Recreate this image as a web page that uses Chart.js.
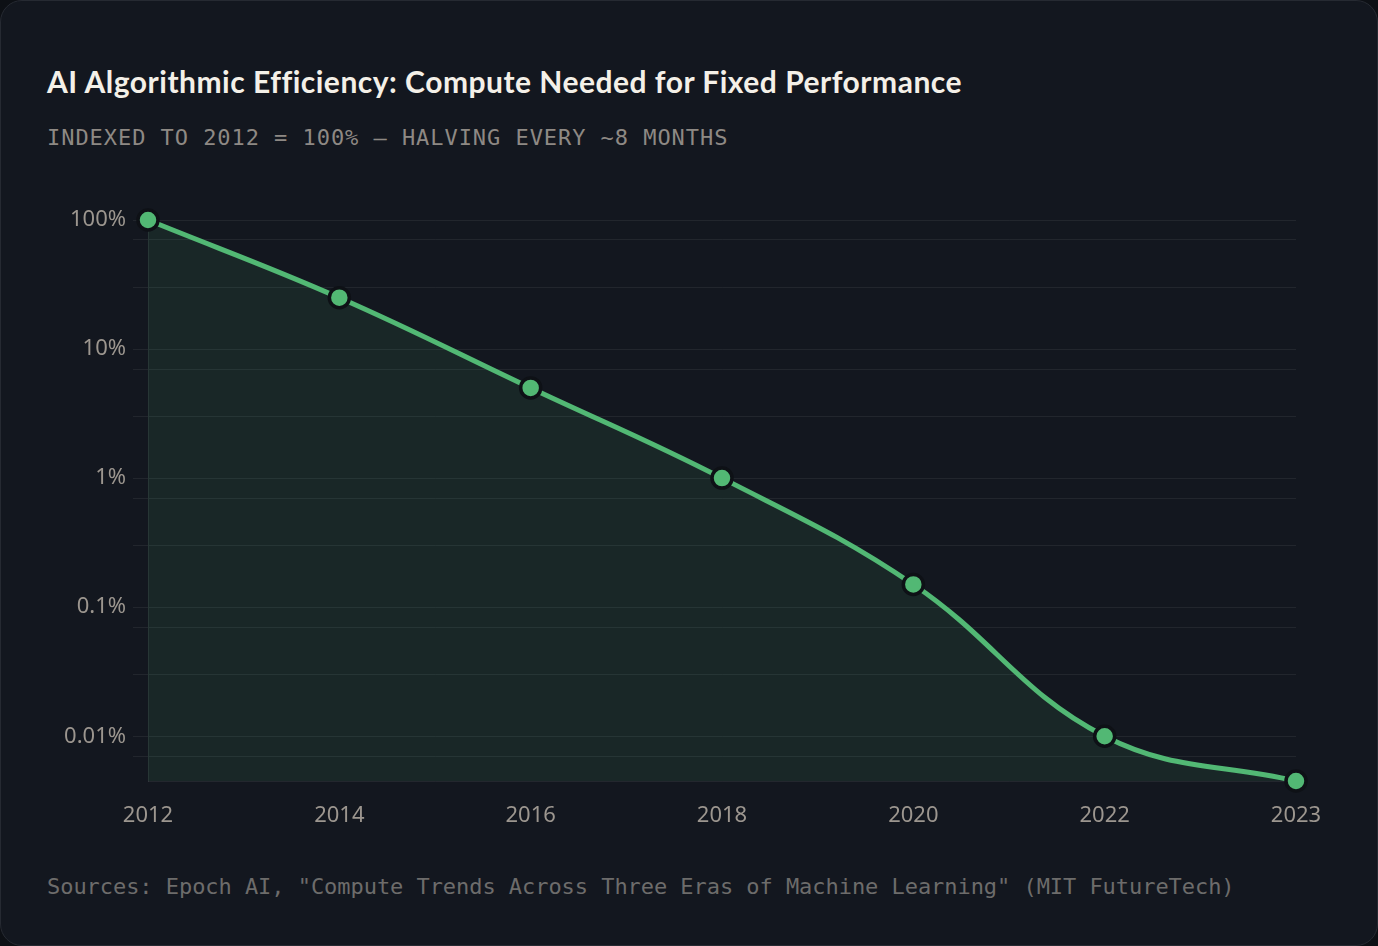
<!DOCTYPE html>
<html>
<head>
<meta charset="utf-8">
<script src="https://cdn.jsdelivr.net/npm/chart.js@4"></script>
<style>
  html, body { margin: 0; padding: 0; background: #0d1015; }
  .card {
    position: absolute; left: 0; top: 0; width: 1376px; height: 944px;
    background: #13171f; border: 1px solid #262a32; border-radius: 22px; overflow: hidden;
  }
  .title {
    position: absolute; left: 46px; top: 62px; line-height: 40px;
    font: 700 30px Lato, "Noto Sans", sans-serif; letter-spacing: 0.5px; color: #f4f0e8;
  }
  .subtitle {
    position: absolute; left: 46px; top: 124px; line-height: 30px;
    font: 400 22px "DejaVu Sans Mono", monospace; letter-spacing: 0.95px; color: #8e8984;
  }
  .source {
    position: absolute; left: 46px; top: 873px; line-height: 30px;
    font: 400 22px "DejaVu Sans Mono", monospace; letter-spacing: -0.05px; color: #6d6c6b;
  }
  .wrap { position: absolute; left: 0; top: 189px; width: 1378px; height: 680px; }
</style>
</head>
<body>
<div class="card">
  <div class="title">AI Algorithmic Efficiency: Compute Needed for Fixed Performance</div>
  <div class="subtitle">INDEXED TO 2012 = 100% — HALVING EVERY ~8 MONTHS</div>
  <div class="wrap"><canvas id="efficiency"></canvas></div>
  <div class="source">Sources: Epoch AI, "Compute Trends Across Three Eras of Machine Learning" (MIT FutureTech)</div>
</div>
<script>
// compute needed, % of 2012 level
var years = ['2012', '2014', '2016', '2018', '2020', '2022', '2023'];
var computeShare = [100, 25, 5, 1, 0.15, 0.01, 0.0045];
var gridTicks = [0.007, 0.01, 0.03, 0.07, 0.1, 0.3, 0.7, 1, 3, 7, 10, 30, 70, 100];
var labelTicks = [0.01, 0.1, 1, 10, 100];

document.addEventListener("DOMContentLoaded", function() {
    var ctx = document.getElementById('efficiency').getContext('2d');
    var green = '#52b874';
    var tickFont = { family: '"Noto Sans", sans-serif', size: 22 };

    new Chart(ctx, {
        type: 'line',
        data: {
            labels: years,
            datasets: [{
                data: computeShare,
                borderColor: green,
                borderWidth: 5,
                backgroundColor: 'rgba(82, 184, 116, 0.1)',
                fill: 'start',
                tension: 0.4,
                pointRadius: 10,
                pointHoverRadius: 10,
                pointBackgroundColor: green,
                pointBorderColor: '#0e1116',
                pointBorderWidth: 3.5,
                clip: false
            }]
        },
        options: {
            responsive: true,
            maintainAspectRatio: false,
            animation: false,
            layout: { padding: { top: 30, left: 60, right: 83, bottom: 39 } },
            plugins: {
                legend: { display: false },
                tooltip: { enabled: false }
            },
            scales: {
                x: {
                    grid: { display: false, drawTicks: false },
                    border: { display: true, color: 'rgba(255,255,255,0.07)', width: 1 },
                    ticks: { color: '#9c968f', font: tickFont, padding: 22, maxRotation: 0 },
                    afterFit: function(scale) { scale.height = 50; }
                },
                y: {
                    type: 'logarithmic',
                    bounds: 'data',
                    grid: { color: 'rgba(255,255,255,0.065)', tickLength: 15 },
                    border: { display: true, color: 'rgba(255,255,255,0.07)', width: 1 },
                    afterBuildTicks: function(scale) {
                        scale.ticks = gridTicks.map(function(v) { return { value: v }; });
                    },
                    ticks: {
                        autoSkip: false,
                        color: '#9c968f',
                        font: tickFont,
                        padding: 7,
                        callback: function(v) {
                            return labelTicks.indexOf(v) >= 0 ? v + '%' : '';
                        }
                    },
                    afterFit: function(scale) { scale.width = 87; }
                }
            }
        }
    });
});
</script>
</body>
</html>
